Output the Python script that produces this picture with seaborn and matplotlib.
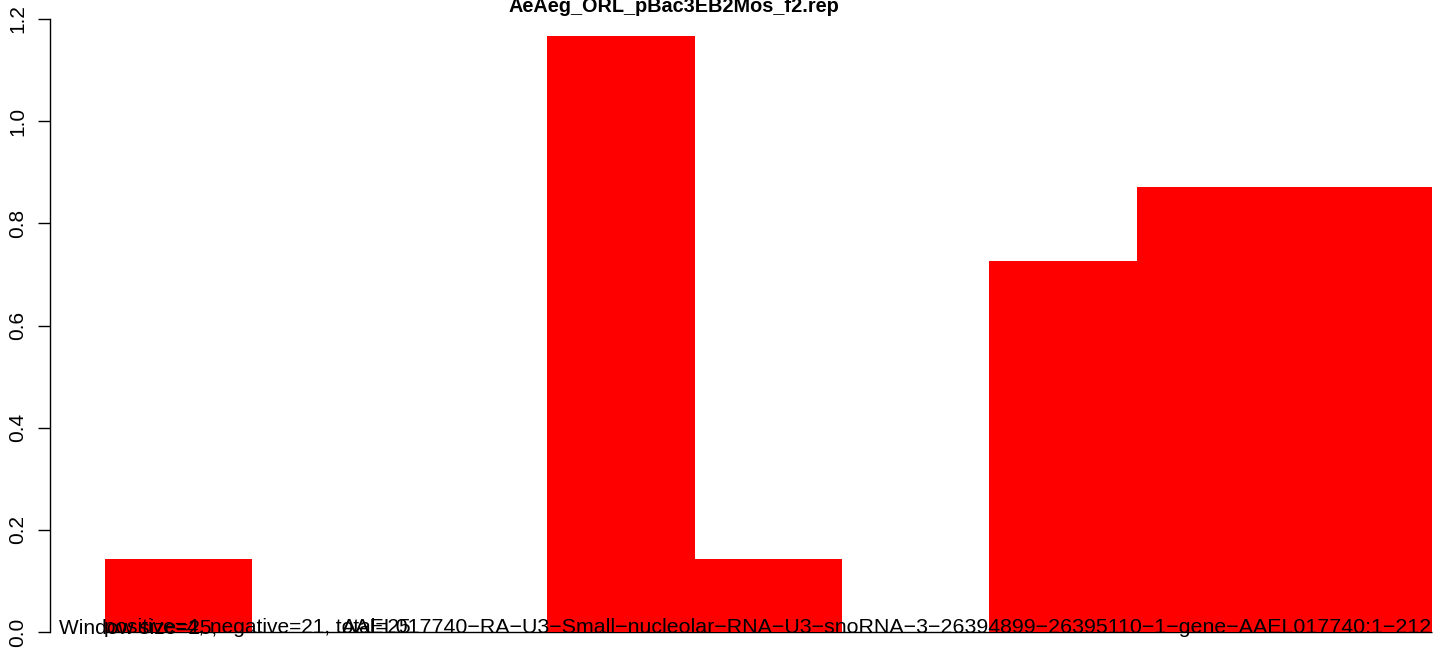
import matplotlib
matplotlib.use("Agg")
import matplotlib.pyplot as plt
import numpy as np
import seaborn as sns

# Data
TITLE = "AeAeg_ORL_pBac3EB2Mos_f2.rep"
window_label = "Window size=25,"
count_label = "positive=4, negative=21, total=25"
gene_label = ("AAEL017740\u2212RA\u2212U3\u2212Small\u2212nucleolar\u2212RNA\u2212U3\u2212"
              "snoRNA\u22123\u221226394899\u221226395110\u22121\u2212gene\u2212AAEL017740:1\u2212212")
bins = list(range(9))
ratios = [0.142, 0.0, 0.0, 1.166, 0.142, 0.0, 0.726, 0.871, 0.871]
yticks = [0.0, 0.2, 0.4, 0.6, 0.8, 1.0, 1.2]

sns.set_style("white")
plt.rcParams["font.family"] = ["Liberation Sans", "DejaVu Sans"]
plt.rcParams["text.color"] = "black"
plt.rcParams["ytick.color"] = "black"

W, H = 1444, 648
fig = plt.figure(figsize=(W / 100, H / 100), dpi=100)
ax = fig.add_axes([50 / W, 0, (W - 50) / W, 1])

sns.barplot(x=bins, y=ratios, color="red", width=1, saturation=1,
            linewidth=0, ax=ax, zorder=2)
ax.hlines(0, -0.5, len(bins) - 0.5, color="black", lw=1, zorder=1)

px_unit = 147.4
ax.set_xlim(-0.5 - 55 / px_unit, -0.5 + (W - 105) / px_unit)
ax.set_ylim(-16 / 510.8, 632 / 510.8)

ax.set_yticks(yticks)
ax.set_yticklabels([f"{t:.1f}" for t in yticks], rotation=90, va="center",
                   fontsize=15, color="black")
ax.tick_params(axis="y", length=8.6, width=1, color="black", pad=8, left=True)
ax.set_xticks([])
ax.set_xlabel("")
ax.set_ylabel("")
for side in ["top", "right", "bottom"]:
    ax.spines[side].set_visible(False)
ax.spines["left"].set_bounds(0, 1.2)
ax.spines["left"].set_color("black")
ax.spines["left"].set_linewidth(1)

base = 1 - 633 / H
fig.text(59 / W, base, window_label, fontsize=15, va="baseline", ha="left")
fig.text(104 / W, base, count_label, fontsize=15, va="baseline", ha="left")
fig.text(1432 / W, base, gene_label, fontsize=15.4, va="baseline", ha="right")

fig.text(674 / W, 1 - 12 / H, TITLE, fontsize=14.3, fontweight="bold",
         ha="center", va="baseline")

fig.savefig("out.png", dpi=100)
